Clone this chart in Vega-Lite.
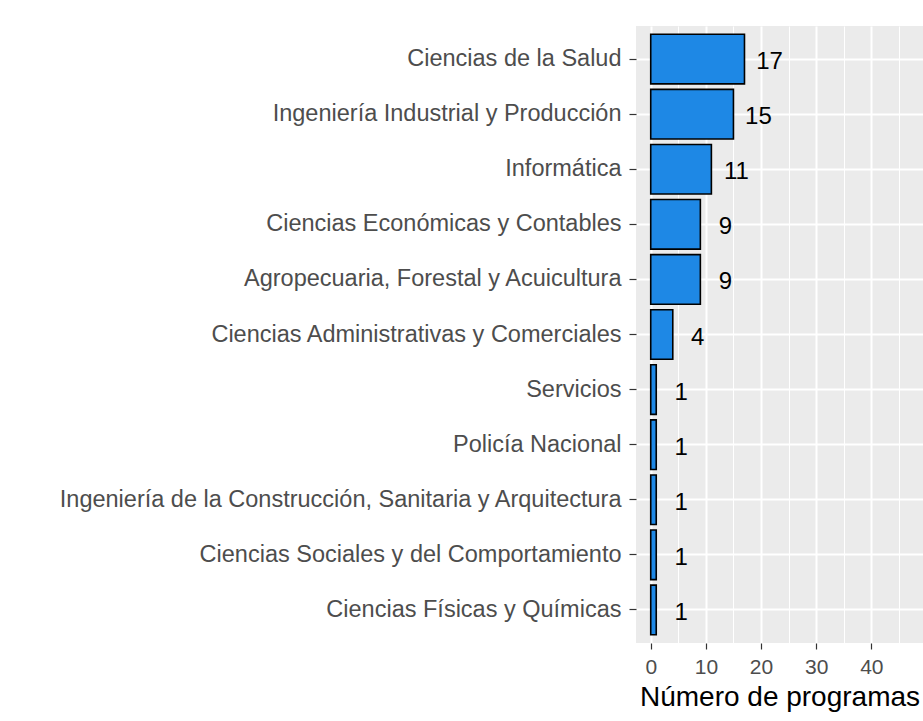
{
  "$schema": "https://vega.github.io/schema/vega-lite/v6.json",
  "autosize": {"type": "none"},
  "width": 287,
  "height": 617,
  "padding": {"left": 636, "top": 26, "right": 0, "bottom": 78},
  "background": "white",
  "config": {
    "view": {"fill": "#ebebeb", "stroke": null},
    "font": "Liberation Sans"
  },
  "data": {
    "values": [
      {"area": "Ciencias de la Salud", "n": 17},
      {"area": "Ingeniería Industrial y Producción", "n": 15},
      {"area": "Informática", "n": 11},
      {"area": "Ciencias Económicas y Contables", "n": 9},
      {"area": "Agropecuaria, Forestal y Acuicultura", "n": 9},
      {"area": "Ciencias Administrativas y Comerciales", "n": 4},
      {"area": "Servicios", "n": 1},
      {"area": "Policía Nacional", "n": 1},
      {"area": "Ingeniería de la Construcción, Sanitaria y Arquitectura", "n": 1},
      {"area": "Ciencias Sociales y del Comportamiento", "n": 1},
      {"area": "Ciencias Físicas y Químicas", "n": 1}
    ]
  },
  "encoding": {
    "y": {
      "field": "area",
      "type": "nominal",
      "sort": null,
      "scale": {"paddingInner": 0.1, "paddingOuter": 0.15},
      "axis": {
        "title": null,
        "domain": false,
        "grid": true,
        "gridColor": "white",
        "gridWidth": 2,
        "tickColor": "#333333",
        "tickSize": 7,
        "tickWidth": 1.2,
        "labelColor": "#4d4d4d",
        "labelFontSize": 23.5,
        "labelFont": "Liberation Sans",
        "labelPadding": 8,
        "labelLimit": 700
      }
    },
    "x": {
      "field": "n",
      "type": "quantitative",
      "scale": {"domain": [-2.67, 49.37], "nice": false, "zero": false},
      "axis": {
        "title": "Número de programas",
        "titleFontSize": 28,
        "titleFont": "Liberation Sans",
        "titleFontWeight": "normal",
        "titleColor": "black",
        "titlePadding": 6,
        "domain": false,
        "values": [0, 5, 10, 15, 20, 25, 30, 35, 40, 45],
        "grid": true,
        "gridColor": "white",
        "gridWidth": {"condition": {"test": "datum.value % 10 === 0", "value": 2}, "value": 1},
        "tickOpacity": {"condition": {"test": "datum.value % 10 === 0", "value": 1}, "value": 0},
        "labelExpr": "datum.value % 10 === 0 ? datum.label : ''",
        "tickColor": "#333333",
        "tickSize": 6,
        "tickWidth": 1.2,
        "labelColor": "#4d4d4d",
        "labelFontSize": 21,
        "labelFont": "Liberation Sans",
        "labelPadding": 7
      }
    }
  },
  "layer": [
    {
      "mark": {"type": "bar", "color": "#1e88e5", "stroke": "black", "strokeWidth": 1.6},
      "encoding": {}
    },
    {
      "mark": {"type": "text", "align": "center", "baseline": "middle", "dx": 25, "dy": 3, "fontSize": 24, "color": "black", "font": "Liberation Sans"},
      "encoding": {"text": {"field": "n", "type": "quantitative"}}
    }
  ]
}
